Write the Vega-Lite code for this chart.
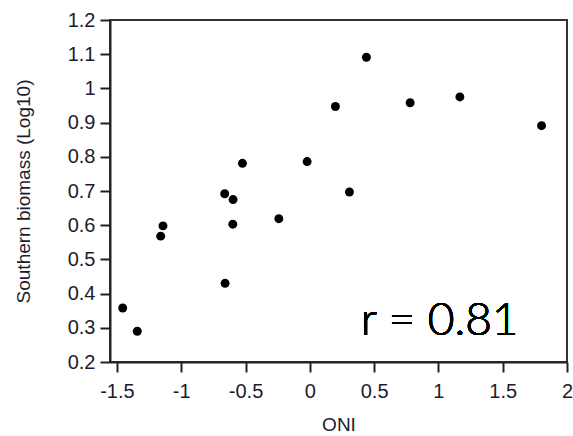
{
  "$schema": "https://vega.github.io/schema/vega-lite/v6.json",
  "width": 457,
  "height": 342,
  "autosize": {"type": "none"},
  "padding": {"left": 110, "top": 20, "right": 6, "bottom": 74},
  "background": "white",
  "config": {
    "view": {"stroke": "#333", "strokeWidth": 2},
    "axis": {
      "labelFont": "Liberation Sans",
      "titleFont": "Liberation Sans",
      "labelFontSize": 20,
      "titleFontSize": 19,
      "labelColor": "#1c1c2c",
      "titleColor": "#1c1c2c",
      "titleFontWeight": "normal",
      "domainColor": "#222",
      "domainWidth": 2,
      "tickColor": "#222",
      "tickWidth": 2,
      "tickSize": 10,
      "grid": false
    }
  },
  "data": {
    "values": [
      {"oni": -1.455, "biomass": 0.358},
      {"oni": -1.342, "biomass": 0.290},
      {"oni": -1.160, "biomass": 0.568},
      {"oni": -1.142, "biomass": 0.598},
      {"oni": -0.662, "biomass": 0.692},
      {"oni": -0.597, "biomass": 0.675},
      {"oni": -0.599, "biomass": 0.603},
      {"oni": -0.524, "biomass": 0.781},
      {"oni": -0.659, "biomass": 0.430},
      {"oni": -0.241, "biomass": 0.619},
      {"oni": -0.021, "biomass": 0.786},
      {"oni": 0.308, "biomass": 0.697},
      {"oni": 0.440, "biomass": 1.091},
      {"oni": 0.199, "biomass": 0.947},
      {"oni": 0.780, "biomass": 0.958},
      {"oni": 1.167, "biomass": 0.975},
      {"oni": 1.802, "biomass": 0.891}
    ]
  },
  "layer": [
    {
      "mark": {"type": "point", "filled": true, "color": "#000", "opacity": 1, "size": 80},
      "encoding": {
        "x": {
          "field": "oni",
          "type": "quantitative",
          "title": "ONI",
          "scale": {"domain": [-1.554, 2], "nice": false, "zero": false},
          "axis": {
            "values": [-1.5, -1, -0.5, 0, 0.5, 1, 1.5, 2],
            "labelExpr": "'' + datum.value",
            "labelOverlap": false,
            "labelFlush": false,
            "labelBound": false,
            "labelPadding": 9,
            "titlePadding": 14
          }
        },
        "y": {
          "field": "biomass",
          "type": "quantitative",
          "title": "Southern biomass (Log10)",
          "scale": {"domain": [0.2, 1.2], "nice": false, "zero": false},
          "axis": {
            "values": [0.2, 0.3, 0.4, 0.5, 0.6, 0.7, 0.8, 0.9, 1, 1.1, 1.2],
            "labelExpr": "'' + datum.value",
            "labelOverlap": false,
            "labelFlush": false,
            "labelBound": false,
            "labelPadding": 5,
            "titlePadding": 34
          }
        }
      }
    },
    {
      "mark": {
        "type": "text",
        "text": "r = 0.81",
        "font": "Lato",
        "fontSize": 46,
        "fontWeight": 300,
        "color": "#000",
        "align": "center",
        "baseline": "alphabetic"
      },
      "encoding": {
        "x": {
          "datum": 1.01,
          "type": "quantitative",
          "title": "ONI",
          "axis": {
            "values": [-1.5, -1, -0.5, 0, 0.5, 1, 1.5, 2],
            "labelExpr": "'' + datum.value",
            "labelOverlap": false,
            "labelFlush": false,
            "labelBound": false,
            "labelPadding": 9,
            "titlePadding": 14
          }
        },
        "y": {
          "datum": 0.28,
          "type": "quantitative",
          "title": "Southern biomass (Log10)",
          "axis": {
            "values": [0.2, 0.3, 0.4, 0.5, 0.6, 0.7, 0.8, 0.9, 1, 1.1, 1.2],
            "labelExpr": "'' + datum.value",
            "labelOverlap": false,
            "labelFlush": false,
            "labelBound": false,
            "labelPadding": 5,
            "titlePadding": 34
          }
        }
      }
    }
  ]
}
